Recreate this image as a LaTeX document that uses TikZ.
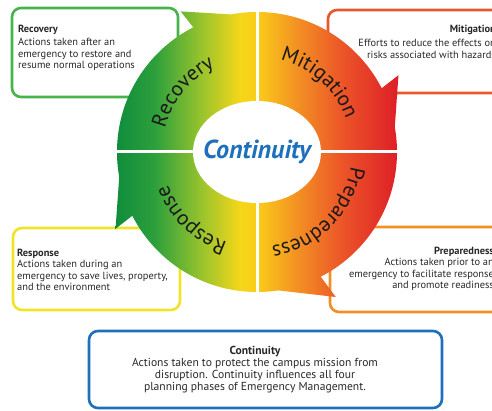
\documentclass[tikz,border=0pt]{standalone}
\usepackage{fontspec}
\setmainfont{PT Sans}
\usetikzlibrary{decorations.text}

\definecolor{recgreen}{RGB}{70,180,75}
\definecolor{mitred}{RGB}{232,88,42}
\definecolor{resyellow}{RGB}{240,228,40}
\definecolor{preorange}{RGB}{242,142,35}
\definecolor{conblue}{RGB}{30,112,188}
\definecolor{textgray}{RGB}{40,40,40}
\definecolor{ringA}{RGB}{15,140,60}
\definecolor{ringB}{RGB}{45,160,60}
\definecolor{ringC}{RGB}{150,195,45}
\definecolor{ringD}{RGB}{245,215,25}
\definecolor{ringE}{RGB}{250,205,25}
\definecolor{ringF}{RGB}{243,145,35}
\definecolor{ringG}{RGB}{236,85,40}
\definecolor{ringH}{RGB}{222,30,40}

\pgfdeclarehorizontalshading{ringshade}{100bp}{color(0bp)=(ringA); color(25bp)=(ringA); color(32bp)=(ringB); color(40bp)=(ringC); color(47bp)=(ringD); color(50bp)=(ringE); color(57bp)=(ringF); color(65bp)=(ringG); color(75bp)=(ringH); color(100bp)=(ringH)}

\tikzset{
  infobox/.style={line width=2.6pt, rounded corners=9pt, fill=white},
  boxtext/.style={inner sep=0pt, text=textgray, font=\fontsize{10.4}{11.5}\selectfont},
  ringlabel/.style={decorate, decoration={text along path, text align=center, text color=black!90, text={|\fontsize{21}{21}\selectfont|#1}}}
}

\begin{document}
\begin{tikzpicture}[x=1pt,y=1pt]
\useasboundingbox (-257,-259) rectangle (235,152);
\clip (-257,-259) rectangle (235,152);

% INFO BOXES
\draw[infobox, draw=recgreen] (-245,144) rectangle (-79,55);
\node[boxtext, anchor=north west, align=left] (rectext) at (-239,127) {\textbf{Recovery}\\[1.5pt]Actions taken after an\\emergency to restore and\\resume normal operations};

\draw[infobox, draw=mitred] (71,142) rectangle (260,59);
\node[boxtext, anchor=north east, align=right] (mittext) at (239,127.5) {\textbf{Mitigation}\\[3pt]Efforts to reduce the effects on\\risks associated with hazards};

\draw[infobox, draw=preorange] (73,-75) rectangle (260,-160);
\node[boxtext, anchor=north east, align=right] (pretext) at (237,-94.5) {\textbf{Preparedness}\\Actions taken prior to an\\emergency to facilitate response\\and promote readiness};

\draw[infobox, draw=resyellow] (-244,-76) rectangle (-77,-158);
\node[boxtext, anchor=north west, align=left] (restext) at (-240,-96.5) {\textbf{Response}\\Actions taken during an\\emergency to save lives, property,\\and the environment};

\draw[infobox, draw=conblue] (-168,-179) rectangle (185,-256);
\node[boxtext, anchor=north, align=center, font=\fontsize{11.6}{12}\selectfont] (context) at (-2,-194) {\textbf{Continuity}\\Actions taken to protect the campus mission from\\disruption. Continuity influences all four\\planning phases of Emergency Management.};

% CYCLE RING
\shade[shading=ringshade] (0,0) circle (140)
  (90:136) -- (118.5:160) -- (117:139) -- cycle
  (0:136) -- (28.5:161) -- (27:139) -- cycle
  (-90:136) -- (-61.5:165) -- (-63:139) -- cycle
  (180:136) -- (208.5:161) -- (207:139) -- cycle;

% DIVIDERS
\draw[white, line width=3pt] (-165,0) -- (165,0) (0,-170) -- (0,165);

% CENTRE
\fill[white] (0,0) ellipse (64 and 51);
\node[text=conblue, font=\fontsize{26}{26}\selectfont\bfseries\itshape] (ctrlabel) at (0,0) {Continuity};

% RING LABELS
\path[ringlabel=Recovery] (186:95) arc[start angle=186, end angle=96, radius=95];
\path[ringlabel=Mitigation] (93:95) arc[start angle=93, end angle=3, radius=95];
\path[ringlabel=Preparedness] (5:95) arc[start angle=5, end angle=-95, radius=95];
\path[ringlabel=Response] (271:95) arc[start angle=271, end angle=181, radius=95];

\end{tikzpicture}
\end{document}
